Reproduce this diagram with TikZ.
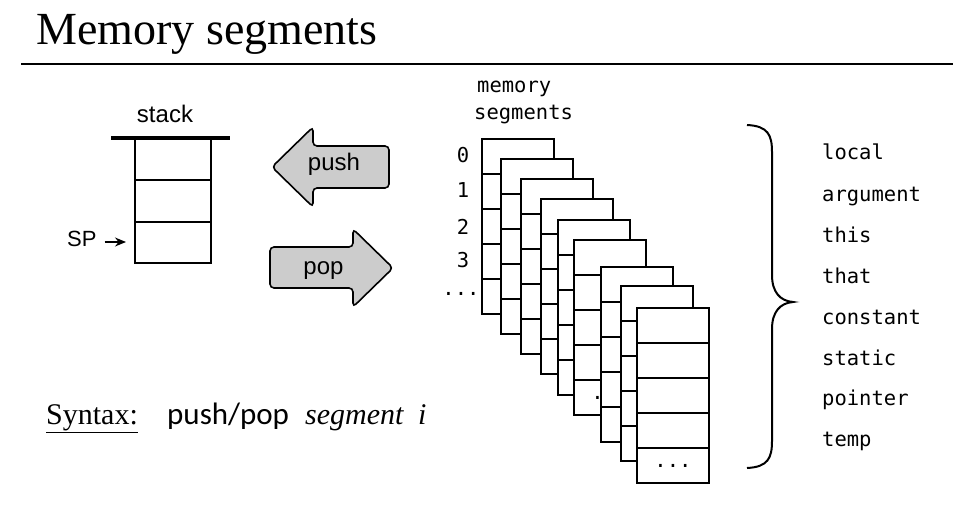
\documentclass[tikz,border=0pt]{standalone}
\usepackage{fontspec}
\setmainfont{Liberation Serif}
\newfontfamily\arialf{Liberation Sans}
\newfontfamily\monof{DejaVu Sans Mono}
\newfontfamily\calf{Carlito}
\usetikzlibrary{arrows.meta}
\begin{document}
\begin{tikzpicture}[x=1pt,y=-1pt,
  memcell/.style={draw,fill=white,line width=2pt,minimum width=72pt,minimum height=35pt,inner sep=0pt,outer sep=0pt,anchor=north west},
  stackcell/.style={draw,line width=2pt,minimum width=76pt,minimum height=42pt,inner sep=0pt,outer sep=0pt,anchor=north west},
  monotext/.style={inner sep=0pt,font=\monof\fontsize{20.5}{24}\selectfont},
  segname/.style={monotext,anchor=base west},
  blockarrow/.style={draw,fill=black!20,line width=1.6pt,rounded corners=4pt},
  lbl/.style={inner sep=0pt,anchor=base,font=\arialf\fontsize{24}{28}\selectfont}
]
\useasboundingbox (0,0) rectangle (953,524);

% title
\node[anchor=base west,inner sep=0pt,font=\fontsize{46}{50}\selectfont] (title) at (36,45) {Memory segments};
\coordinate (ruleL) at (21,64);
\coordinate (ruleR) at (953,64);
\draw[line width=2.5pt] (ruleL) -- (ruleR);

% stack
\node[lbl] (stacklbl) at (165,122.5) {stack};
\node[stackcell] (st1) at (135,138) {};
\node[stackcell] (st2) at (135,180) {};
\node[stackcell,minimum height=41pt] (st3) at (135,222) {};
\coordinate (barL) at (111,138);
\coordinate (barR) at (230,138);
\draw[line width=4pt] (barL) -- (barR);
\node[inner sep=0pt,anchor=base west,font=\arialf\fontsize{22}{26}\selectfont] (sp) at (67,246) {SP};
\coordinate (spend) at (126,242);
\draw[line width=1.2pt,-{Stealth[length=11pt,width=9pt]}] (sp.east |- spend) ++(8,0) -- (spend);

% push / pop block arrows
\draw[blockarrow] (272,167) -- (313,127) -- (313,146) -- (389,146) -- (389,188) -- (313,188) -- (313,207) -- cycle;
\node[lbl] (push) at (334,171) {push};
\draw[blockarrow] (393,268) -- (353,229) -- (353,247) -- (270,247) -- (270,288) -- (353,288) -- (353,307) -- cycle;
\node[lbl] (pop) at (323.5,274) {pop};

% memory segments label
\node[segname] (memA) at (477,93) {memory};
\node[segname] (memB) at (474,120) {segments};
\node[monotext,anchor=base] (i0) at (463,163) {0};
\node[monotext,anchor=base] (i1) at (463,197) {1};
\node[monotext,anchor=base] (i2) at (463,234) {2};
\node[monotext,anchor=base] (i3) at (463,267) {3};
\node[monotext,anchor=base] (idots) at (461,295) {...};

% memory segment stacks
\foreach \i/\x/\y in {0/481.7/139,1/500.7/159,2/521/179,3/541/199,4/558/220,5/574/240,6/601/267,7/621/286,8/637/308}{
  \foreach \r in {1,...,5}{
    \node[memcell] (m\i-\r) at (\x,{\y+35*(\r-1)}) {};
  }
  \node[monotext] (d\i) at (m\i-5) {...};
}

% brace
\coordinate (brT) at (747,125);
\coordinate (brB) at (747,468);
\coordinate (brM) at (793,302);
\draw[line width=2pt] (brT) .. controls (768,126) and (772,135) .. (772,152) -- (772,275)
  .. controls (772,292) and (780,301) .. (brM)
  .. controls (780,303) and (772,312) .. (772,329) -- (772,441)
  .. controls (772,458) and (768,467) .. (brB);

% segment names
\node[segname] (local) at (822,160) {local};
\node[segname] (argument) at (822,201) {argument};
\node[segname] (this) at (822,242) {this};
\node[segname] (that) at (822,283) {that};
\node[segname] (constant) at (822,324) {constant};
\node[segname] (static) at (822,365) {static};
\node[segname] (pointer) at (822,405.5) {pointer};
\node[segname] (temp) at (822,446) {temp};

% syntax
\node[anchor=base west,inner sep=0pt,font=\fontsize{30}{34}\selectfont] (syn) at (46,424) {\underline{Syntax:}};
\node[anchor=base west,inner sep=0pt,font=\calf\fontsize{31}{36}\selectfont] (pp) at (167,424) {push/pop};
\node[anchor=base west,inner sep=0pt,font=\itshape\fontsize{30}{34}\selectfont] (seg) at (305,424) {segment};
\node[anchor=base west,inner sep=0pt,font=\itshape\fontsize{30}{34}\selectfont] (ivar) at (418,424) {i};
\end{tikzpicture}
\end{document}
